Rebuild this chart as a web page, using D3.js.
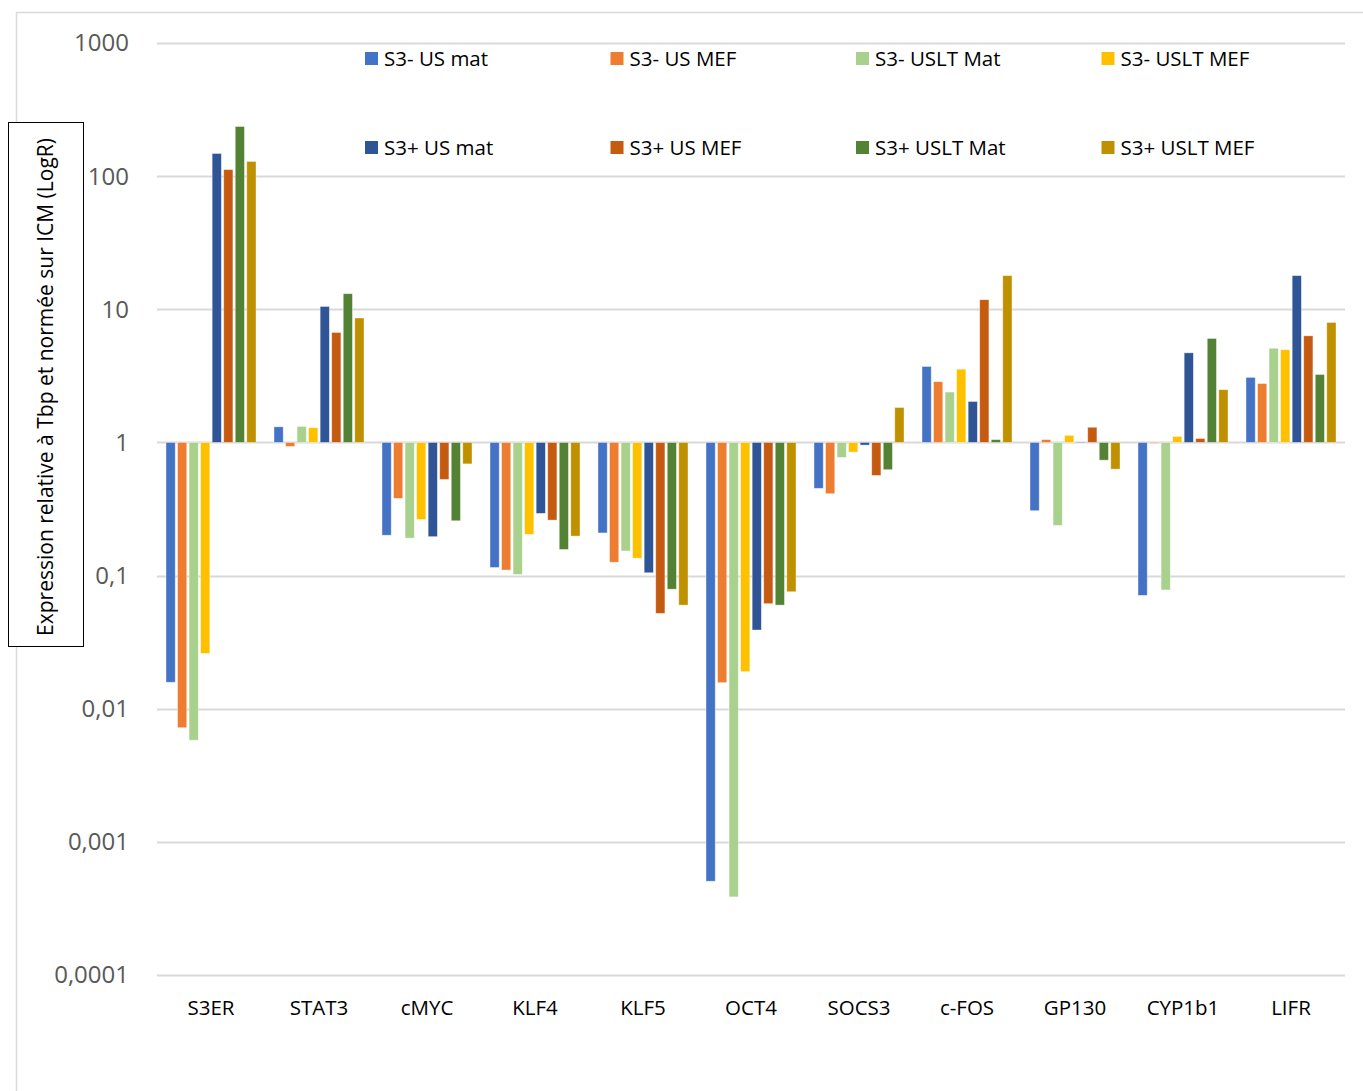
<!DOCTYPE html>
<meta charset="utf-8">
<head>
  <title>Expression relative</title>
</head>
<style>
body { margin: 0; background: #fff; font-family: "Open Sans", "Noto Sans", sans-serif; }
svg { display: block; }
</style>
<body>
<svg width="1363" height="1091"></svg>
<script src="https://cdnjs.cloudflare.com/ajax/libs/d3/7.8.5/d3.min.js"></script>
<script>
// genes on the x axis
var categories = ["S3ER", "STAT3", "cMYC", "KLF4", "KLF5", "OCT4", "SOCS3", "c-FOS", "GP130", "CYP1b1", "LIFR"];

var seriesNames = ["S3- US mat", "S3- US MEF", "S3- USLT Mat", "S3- USLT MEF",
                   "S3+ US mat", "S3+ US MEF", "S3+ USLT Mat", "S3+ USLT MEF"];
var seriesColors = ["#4472C4", "#ED7D31", "#A9D18E", "#FFC000",
                    "#2F5597", "#C55A11", "#548235", "#BF9000"];

// values, one array per series (same order as categories)
var s3mUSmat    = [0.0158, 1.31, 0.201, 0.115, 0.209, 0.000506, 0.452, 3.72, 0.307, 0.071, 3.08];
var s3mUSMEF    = [0.0072, 0.933, 0.38, 0.110, 0.126, 0.0157, 0.412, 2.86, 1.05, 0.985, 2.77];
var s3mUSLTMat  = [0.0058, 1.32, 0.191, 0.102, 0.153, 0.000386, 0.771, 2.39, 0.238, 0.078, 5.1];
var s3mUSLTMEF  = [0.026, 1.29, 0.264, 0.204, 0.135, 0.019, 0.846, 3.55, 1.13, 1.11, 4.97];
var s3pUSmat    = [148, 10.5, 0.196, 0.293, 0.105, 0.039, 0.955, 2.03, 0.99, 4.71, 17.9];
var s3pUSMEF    = [112, 6.7, 0.527, 0.261, 0.052, 0.0615, 0.565, 11.8, 1.30, 1.07, 6.32];
var s3pUSLTMat  = [236, 13.1, 0.258, 0.157, 0.079, 0.060, 0.624, 1.05, 0.736, 6.04, 3.24];
var s3pUSLTMEF  = [129, 8.6, 0.69, 0.198, 0.060, 0.0756, 1.83, 17.9, 0.63, 2.49, 7.96];

var seriesValues = [s3mUSmat, s3mUSMEF, s3mUSLTMat, s3mUSLTMEF,
                    s3pUSmat, s3pUSMEF, s3pUSLTMat, s3pUSLTMEF];

var tickValues = [1000, 100, 10, 1, 0.1, 0.01, 0.001, 0.0001];
var tickLabels = ["1000", "100", "10", "1", "0,1", "0,01", "0,001", "0,0001"];

var yTitle = "Expression relative à Tbp et normée sur ICM (LogR)";

var svg = d3.select("svg");

// outer chart frame (cut off at the window edges)
svg.append("path")
  .attr("d", "M16.5,1091 V12.5 H1363")
  .attr("fill", "none")
  .attr("stroke", "#d9d9d9")
  .attr("stroke-width", 1.5);

var x0 = d3.scaleBand()
  .domain(categories)
  .range([157, 1345])
  .paddingInner(0.1667)
  .paddingOuter(0.0833);

var x1 = d3.scaleBand()
  .domain(seriesNames)
  .range([0, x0.bandwidth()])
  .paddingInner(0.2);

var y = d3.scaleLog()
  .domain([0.0001, 1000])
  .range([975, 43]);

// gridlines
svg.append("g")
  .selectAll("line")
  .data(tickValues)
  .enter()
  .append("line")
  .attr("x1", 157)
  .attr("x2", 1345)
  .attr("y1", function(d){ return Math.round(y(d)) + 0.5; })
  .attr("y2", function(d){ return Math.round(y(d)) + 0.5; })
  .attr("stroke", "#d9d9d9")
  .attr("stroke-width", 2);

// y tick labels
svg.append("g")
  .selectAll("text")
  .data(tickValues)
  .enter()
  .append("text")
  .attr("x", 129)
  .attr("y", function(d){ return y(d); })
  .attr("dy", "0.35em")
  .attr("text-anchor", "end")
  .attr("fill", "#595959")
  .style("font-size", "24px")
  .text(function(d, i){ return tickLabels[i]; });

// bars, from 1 to value
var groups = svg.append("g")
  .selectAll("g")
  .data(seriesNames)
  .enter()
  .append("g")
  .attr("fill", function(d, i){ return seriesColors[i]; });

groups.selectAll("rect")
  .data(function(d, i){
    return seriesValues[i].map(function(v, j){ return {series: d, cat: categories[j], value: v}; });
  })
  .enter()
  .append("rect")
  .attr("x", function(d){ return x0(d.cat) + x1(d.series); })
  .attr("width", x1.bandwidth())
  .attr("y", function(d){ return Math.min(y(d.value), y(1)); })
  .attr("height", function(d){ return Math.abs(y(d.value) - y(1)); })
  .attr("stroke", "#fff")
  .attr("stroke-opacity", 0.5)
  .attr("stroke-width", 0.8);

// category labels
svg.append("g")
  .selectAll("text")
  .data(categories)
  .enter()
  .append("text")
  .attr("x", function(d){ return x0(d) + x0.bandwidth() / 2; })
  .attr("y", 1015)
  .attr("text-anchor", "middle")
  .attr("fill", "#000")
  .style("font-size", "20.5px")
  .text(function(d){ return d; });

// legend, 2 rows x 4 columns
var legend = svg.append("g")
  .selectAll("g")
  .data(seriesNames)
  .enter()
  .append("g")
  .attr("transform", function(d, i){
    return "translate(" + (365 + (i % 4) * 245.5) + "," + (52 + Math.floor(i / 4) * 89) + ")";
  });

legend.append("rect")
  .attr("width", 13)
  .attr("height", 13)
  .attr("fill", function(d, i){ return seriesColors[i]; });

legend.append("text")
  .attr("x", 19)
  .attr("y", 6.5)
  .attr("dy", "0.35em")
  .attr("fill", "#000")
  .style("font-size", "20.5px")
  .text(function(d){ return d; });

// y axis title in a box
svg.append("rect")
  .attr("x", 8.5)
  .attr("y", 122.5)
  .attr("width", 75)
  .attr("height", 524)
  .attr("fill", "#fff")
  .attr("stroke", "#000")
  .attr("stroke-width", 1);

svg.append("text")
  .attr("transform", "translate(46,387) rotate(-90)")
  .attr("text-anchor", "middle")
  .attr("dy", "0.35em")
  .attr("fill", "#000")
  .style("font-size", "21px")
  .text(yTitle);
</script>
</body>
</html>
